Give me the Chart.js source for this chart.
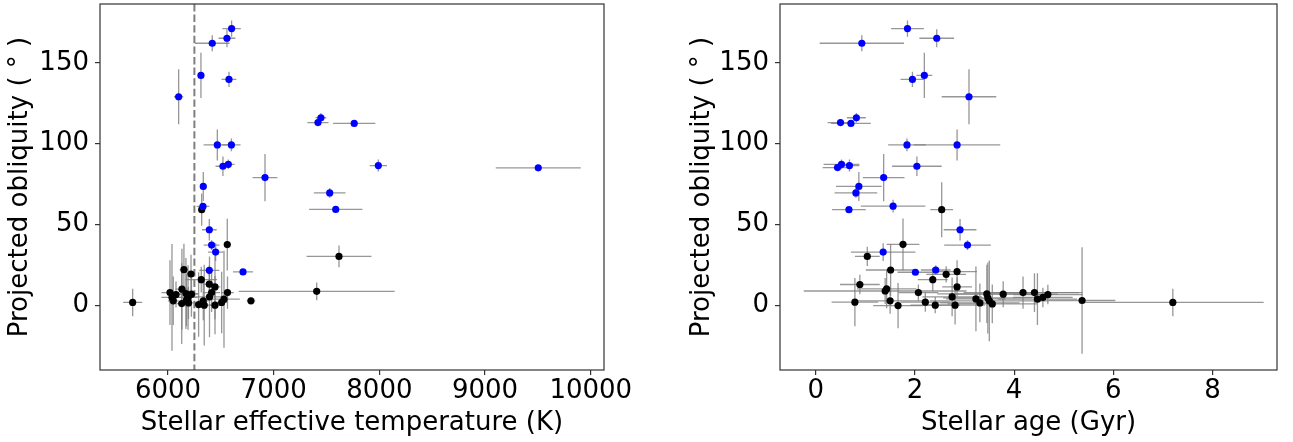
<!DOCTYPE html>
<html>
<head>
<meta charset="utf-8">
<script src="https://cdn.jsdelivr.net/npm/chart.js@4.4.0/dist/chart.umd.min.js"></script>
<style>
  html, body { margin: 0; padding: 0; background: #fff; }
  #wrap { position: relative; width: 1293px; height: 442px; }
  canvas { position: absolute; top: 0; }
</style>
</head>
<body>
<div id="wrap">
  <canvas id="teffChart" style="left:0px" width="640" height="442"></canvas>
  <canvas id="ageChart" style="left:640px" width="653" height="442"></canvas>
</div>
<script>
// ---- left panel: effective temperature vs projected obliquity ----
// blue = misaligned systems
const teffBlue    = [6602, 6558, 6419, 6312, 6577, 6101, 7447, 7419, 7762, 6467, 6600, 6520, 6571, 6918, 6334, 7530, 7990, 9503, 7587, 6331, 6391, 6413, 6451, 6391, 6710];
const teffBlueErr = [  87,   80,  163,   20,   70,   44,   50,  100,  200,  130,   87,   70,   60,  117,   20,  150,   82,  402,  252,   60,   70,   75,   72,   95,   95];
const oblBlueL    = [171.2, 165.2, 162.1, 142.2, 139.7, 129, 116, 113, 112.5, 99.2, 99.2, 86, 87.2, 79, 73.5, 69.5, 86.4, 85, 59.3, 61.1, 46.7, 37.2, 32.9, 21.6, 20.6];
const oblBlueLErr = [5, 5.5, 5, 14, 4.7, 17, 3, 2, 1.5, 9.6, 4, 6, 3, 14.6, 9, 3, 3.7, 1, 1, 2, 6.7, 3, 5.5, 3, 1.5];

// black = aligned systems
const teffBlack    = [6319, 6561, 7618, 7407, 5666, 6151, 6218, 6315, 6391, 6445, 6413, 6132, 6019, 6076, 6038, 6050, 6170, 6222, 6190, 6175, 6130, 6194, 6393, 6334, 6290, 6343, 6445, 6508, 6530, 6563, 6785];
const teffBlackErr = [  20,   20,  307,  738,   90,   40,   40,  150,   60,   50,   80,   60,   80,   60,  100,   50,  120,   60,   90,   40,   50,   70,  130,   50,   40,   80,   60,   50,  150,   60,   40];
const oblBlackL    = [59.1, 37.5, 30.2, 8.6, 1.7, 22.0, 19.3, 15.8, 13, 11.3, 7.8, 9.9, 7.8, 6.6, 4.8, 2.7, 7.2, 6.8, 4.8, 3.1, 1.0, 1.4, 5.1, 2.7, 0.4, 0, 0, 1.7, 3.7, 7.8, 2.7];
const oblBlackLErr = [10, 16, 6.7, 5.5, 8.5, 16, 12, 8, 10, 20, 12, 25, 20, 8, 33, 15, 22, 14, 20, 16, 25, 10, 25, 12, 20, 25, 18, 19, 30, 10, 2];

// ---- right panel: stellar age vs projected obliquity ----
const ageBlue    = [1.85, 2.44, 0.93, 2.19, 1.95, 3.09, 0.82, 0.50, 0.71, 1.84, 2.85, 2.04, 0.52, 0.44, 0.68, 1.37, 0.87, 0.81, 0.67, 1.56, 2.91, 3.06, 1.36, 2.01, 2.42];
const ageBlueErr = [0.33, 0.35, 0.85, 0.16, 0.24, 0.55, 0.19, 0.26, 0.40, 0.38, 0.87, 0.50, 0.36, 0.30, 0.20, 0.42, 0.46, 0.43, 0.34, 0.65, 0.33, 0.47, 0.65, 0.36, 0.30];
const oblBlueR    = [171.2, 165.2, 162.1, 142.2, 139.7, 129, 116, 113, 112.5, 99.2, 99.2, 86, 87.2, 85.2, 86.4, 79, 73.5, 69.5, 59.1, 61.3, 46.7, 37.2, 32.9, 20.4, 21.8];
const oblBlueRErr = [5, 5.5, 5, 14, 4.7, 17, 3, 2, 1.5, 4, 9.6, 6, 3, 2, 3.7, 14.6, 9, 3, 1, 4, 6.7, 3, 5.5, 1.5, 3];

const ageBlack    = [2.54, 1.76, 1.04, 1.51, 0.89, 1.40, 1.43, 2.07, 0.79, 1.50, 1.66, 2.21, 2.41, 2.36, 2.63, 2.85, 2.85, 2.75, 2.81, 3.23, 3.31, 3.45, 3.47, 3.50, 3.56, 3.78, 4.18, 4.41, 4.47, 4.58, 4.68, 5.37, 7.20];
const ageBlackErr = [0.23, 0.33, 0.25, 0.50, 0.40, 1.64, 0.60, 0.40, 0.47, 0.70, 0.50, 0.50, 0.50, 0.30, 0.40, 0.40, 0.30, 0.60, 0.60, 0.60, 0.80, 1.00, 0.90, 1.20, 0.90, 1.10, 1.20, 0.90, 0.80, 0.60, 0.70, 0.67, 1.83];
const oblBlackR    = [59.1, 37.7, 30.2, 21.8, 12.8, 8.8, 10.1, 7.8, 1.9, 2.7, -0.2, 1.9, 0, 15.8, 19.1, 20.8, 11.3, 5.1, 0, 3.9, 1.4, 7.0, 4.5, 2.7, 0.8, 6.8, 7.8, 7.8, 3.7, 4.8, 6.6, 2.9, 1.7];
const oblBlackRErr = [17, 16, 6, 16, 6, 8, 12, 5, 15, 8, 14, 6, 5, 7, 5, 7, 6, 12, 12, 20, 12, 18, 22, 25, 12, 8, 10, 12, 16, 6, 6, 33, 8.5];

// axis ticks / limits
const teffTicks = [6000, 7000, 8000, 9000, 10000];
const ageTicks = [0, 2, 4, 6, 8];
const oblTicks = [0, 50, 100, 150];
const teffRange = [5357, 10125];
const ageRange = [-0.72, 9.3];
const oblRange = [-40.1, 186.4];
const kraftBreak = 6250;

const FONT = { family: "'DejaVu Sans', sans-serif", size: 26 };

function toPoints(xs, xe, ys, ye) {
    return xs.map((v, i) => ({ x: v, y: ys[i], xErr: xe[i], yErr: ye[i] }));
}

// error bars, dashed divider and axes frame
const errorBars = {
    id: 'errorBars',
    beforeDatasetsDraw(chart, args, opts) {
        const { ctx, chartArea: a, scales: { x, y } } = chart;
        ctx.save();
        ctx.beginPath();
        ctx.rect(a.left, a.top, a.right - a.left, a.bottom - a.top);
        ctx.clip();
        ctx.strokeStyle = 'rgba(125,125,125,0.8)';
        ctx.lineWidth = 1.3;
        chart.data.datasets.slice().reverse().forEach(ds => {
            ds.data.forEach(p => {
                const px = x.getPixelForValue(p.x);
                const py = y.getPixelForValue(p.y);
                ctx.beginPath();
                ctx.moveTo(x.getPixelForValue(p.x - p.xErr), py);
                ctx.lineTo(x.getPixelForValue(p.x + p.xErr), py);
                ctx.moveTo(px, y.getPixelForValue(p.y - p.yErr));
                ctx.lineTo(px, y.getPixelForValue(p.y + p.yErr));
                ctx.stroke();
            });
        });
        if (opts.vline != null) {
            const vx = x.getPixelForValue(opts.vline);
            ctx.strokeStyle = '#7f7f7f';
            ctx.lineWidth = 2;
            ctx.setLineDash([7.4, 3.2]);
            ctx.beginPath();
            ctx.moveTo(vx, a.top);
            ctx.lineTo(vx, a.bottom);
            ctx.stroke();
        }
        ctx.restore();
    },
    afterDraw(chart) {
        const { ctx, chartArea: a } = chart;
        ctx.save();
        ctx.strokeStyle = '#333';
        ctx.lineWidth = 1.2;
        ctx.strokeRect(a.left, a.top, a.right - a.left, a.bottom - a.top);
        ctx.restore();
    }
};

function panel(canvasId, cfg) {
    return new Chart(document.getElementById(canvasId), {
        type: 'scatter',
        data: {
            datasets: [
                { data: toPoints(...cfg.blue), backgroundColor: '#0000ff', pointRadius: 3.6, borderWidth: 0 },
                { data: toPoints(...cfg.black), backgroundColor: '#000000', pointRadius: 3.6, borderWidth: 0 }
            ]
        },
        options: {
            responsive: false,
            animation: false,
            events: [],
            layout: { padding: cfg.padding },
            plugins: {
                legend: { display: false },
                tooltip: { enabled: false },
                errorBars: { vline: cfg.vline }
            },
            scales: {
                x: {
                    type: 'linear',
                    min: cfg.xRange[0],
                    max: cfg.xRange[1],
                    afterBuildTicks: s => { s.ticks = cfg.xTicks.map(v => ({ value: v })); },
                    afterFit: s => { s.height = 72; s.paddingLeft = 0; s.paddingRight = 0; },
                    ticks: { font: FONT, color: '#000', padding: 1, maxRotation: 0, autoSkip: false, callback: v => String(v) },
                    grid: { drawOnChartArea: false, drawTicks: true, tickLength: 5, color: '#333', lineWidth: 1.2 },
                    border: { display: false },
                    title: { display: true, text: cfg.xTitle, font: FONT, color: '#000', padding: { top: 0, bottom: 3 } }
                },
                y: {
                    type: 'linear',
                    min: oblRange[0],
                    max: oblRange[1],
                    afterBuildTicks: s => { s.ticks = oblTicks.map(v => ({ value: v })); },
                    afterFit: s => { s.width = cfg.yWidth; s.paddingTop = 0; s.paddingBottom = 0; },
                    ticks: { font: FONT, color: '#000', padding: 6, autoSkip: false, callback: v => String(v) },
                    grid: { drawOnChartArea: false, drawTicks: true, tickLength: 5, color: '#333', lineWidth: 1.2 },
                    border: { display: false },
                    title: { display: true, text: 'Projected obliquity ( \u00b0 )', font: FONT, color: '#000', padding: { top: cfg.yTitlePad, bottom: 0 } }
                }
            }
        },
        plugins: [errorBars]
    });
}

var teffChart = panel('teffChart', {
    blue: [teffBlue, teffBlueErr, oblBlueL, oblBlueLErr],
    black: [teffBlack, teffBlackErr, oblBlackL, oblBlackLErr],
    xRange: teffRange,
    xTicks: teffTicks,
    xTitle: 'Stellar effective temperature (K)',
    vline: kraftBreak,
    padding: { left: 0, top: 3, right: 36, bottom: 0 },
    yWidth: 100,
    yTitlePad: 4.4
});

var ageChart = panel('ageChart', {
    blue: [ageBlue, ageBlueErr, oblBlueR, oblBlueRErr],
    black: [ageBlack, ageBlackErr, oblBlackR, oblBlackRErr],
    xRange: ageRange,
    xTicks: ageTicks,
    xTitle: 'Stellar age (Gyr)',
    vline: null,
    padding: { left: 0, top: 3, right: 16, bottom: 0 },
    yWidth: 140,
    yTitlePad: 46.4
});
</script>
</body>
</html>
